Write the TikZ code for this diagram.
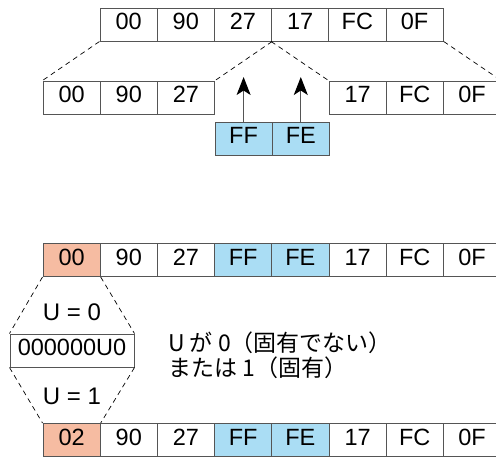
\documentclass[tikz,border=0pt]{standalone}
\usepackage{fontspec}
\setmainfont{Liberation Sans}
\newfontfamily\jpfont{Noto Sans CJK JP}
\usetikzlibrary{arrows.meta}
\definecolor{lblue}{HTML}{AADDF4}
\definecolor{salmon}{HTML}{F6BCA2}
\definecolor{edge}{HTML}{555555}
\tikzset{
  cell/.style={draw=edge, line width=1pt, minimum width=57.2pt, minimum height=33pt, inner sep=0pt, font=\fontsize{23.5}{26}\selectfont, anchor=center},
  bluecell/.style={cell, fill=lblue},
  redcell/.style={cell, fill=salmon},
  dashline/.style={draw=black, line width=0.7pt, dash pattern=on 5pt off 4pt},
  upArrow/.style={draw=edge, line width=1.1pt, -{Stealth[length=18pt,width=14pt,inset=4.5pt,color=black]}},
  lbl/.style={font=\fontsize{24}{26}\selectfont, inner sep=0pt},
  jp/.style={font=\jpfont\fontsize{23}{25}\selectfont, align=left, anchor=west, inner sep=0pt}
}
\begin{document}
\begin{tikzpicture}[x=1pt,y=-1pt]
\useasboundingbox (0,0) rectangle (496,456);
\clip (0,0) rectangle (496,456);
% top row
\foreach \t [count=\i] in {00,90,27,17,FC,0F}
  \node[cell] (t\i) at ({100+57.2*(\i-0.5)},24.5) {\strut\t};
% second row
\foreach \t [count=\i] in {00,90,27}
  \node[cell] (l\i) at ({43+57.2*(\i-0.5)},97.5) {\strut\t};
\foreach \t [count=\i] in {17,FC,0F}
  \node[cell] (r\i) at ({329+57.2*(\i-0.5)},97.5) {\strut\t};
\node[bluecell] (f1) at ({215+57.2*0.5},138.5) {\strut FF};
\node[bluecell] (f2) at ({215+57.2*1.5},138.5) {\strut FE};
\coordinate (a1) at (f1.center |- 0,77);
\coordinate (a2) at (f2.center |- 0,77);
\draw[upArrow] (f1.north) -- (a1);
\draw[upArrow] (f2.north) -- (a2);
\draw[dashline] (t1.south west) -- (l1.north west);
\draw[dashline] (t3.south east) -- (l3.north east);
\draw[dashline] (t4.south west) -- (r1.north west);
\draw[dashline] (t6.south east) -- (r3.north east);
% lower part
\foreach \t [count=\i] in {00,90,27,FF,FE,17,FC,0F} {
  \ifnum\i=1 \def\sty{redcell}\else\ifnum\i=4 \def\sty{bluecell}\else\ifnum\i=5 \def\sty{bluecell}\else\def\sty{cell}\fi\fi\fi
  \node[\sty] (b\i) at ({43+57.2*(\i-0.5)},260) {\strut\t};
}
\foreach \t [count=\i] in {02,90,27,FF,FE,17,FC,0F} {
  \ifnum\i=1 \def\sty{redcell}\else\ifnum\i=4 \def\sty{bluecell}\else\ifnum\i=5 \def\sty{bluecell}\else\def\sty{cell}\fi\fi\fi
  \node[\sty] (c\i) at ({43+57.2*(\i-0.5)},440) {\strut\t};
}
\node[cell, minimum width=124pt] (m) at (72,350.5) {\strut 000000U0};
\draw[dashline] (b1.south west) -- (m.north west);
\draw[dashline] (b1.south east) -- (m.north east);
\draw[dashline] (m.south west) -- (c1.north west);
\draw[dashline] (m.south east) -- (c1.north east);
\node[lbl] (u0) at (72,312) {U = 0};
\node[lbl] (u1) at (72,396) {U = 1};
\node[jp] (note) at (168,355) {U が 0（固有でない）\\または 1（固有）};
\end{tikzpicture}
\end{document}
